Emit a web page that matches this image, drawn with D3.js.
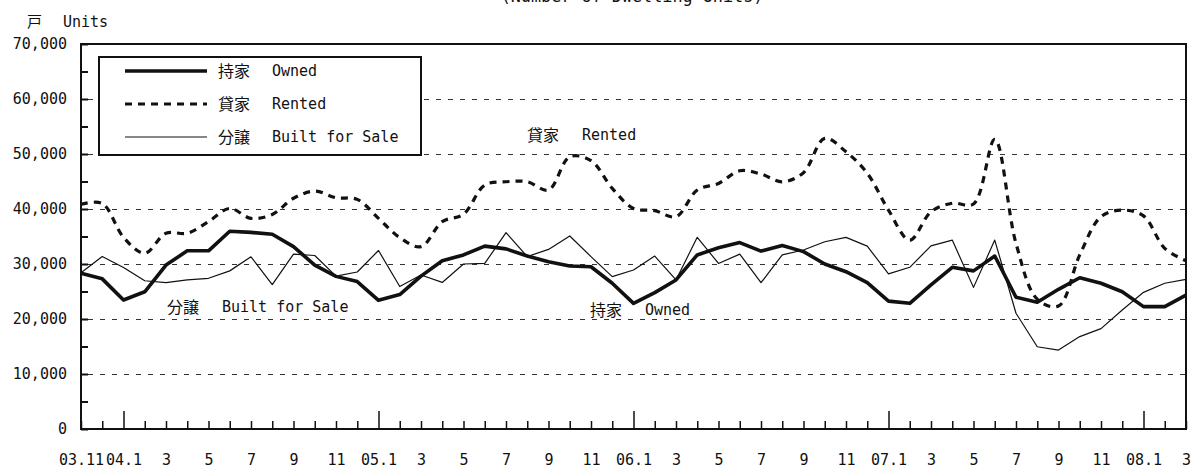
<!DOCTYPE html>
<html>
<head>
<meta charset="utf-8">
<script src="https://cdn.jsdelivr.net/npm/d3@7"></script>
<style>
  html, body { margin: 0; padding: 0; background: #fff; }
  svg { display: block; }
  text { font-family: 'DejaVu Sans Mono', 'Noto Sans CJK JP', monospace; fill: #111; }
  .cjk { font-family: 'Noto Sans CJK JP', sans-serif; }
</style>
</head>
<body>
<div id="chart"></div>
<script>
// monthly, 2003.11 - 2008.3
var months = [
  '03.11', '03.12',
  '04.1', '04.2', '04.3', '04.4', '04.5', '04.6', '04.7', '04.8', '04.9', '04.10', '04.11', '04.12',
  '05.1', '05.2', '05.3', '05.4', '05.5', '05.6', '05.7', '05.8', '05.9', '05.10', '05.11', '05.12',
  '06.1', '06.2', '06.3', '06.4', '06.5', '06.6', '06.7', '06.8', '06.9', '06.10', '06.11', '06.12',
  '07.1', '07.2', '07.3', '07.4', '07.5', '07.6', '07.7', '07.8', '07.9', '07.10', '07.11', '07.12',
  '08.1', '08.2', '08.3'
]

var owned = [
  28300, 27300, 23450, 24950, 29800, 32400, 32400, 35950, 35750, 35400, 33150, 29800, 27750,
  26800, 23400, 24450, 27800, 30600, 31650, 33250, 32750, 31450, 30400, 29650, 29500, 26500,
  22850, 24800, 27100, 31650, 32950, 33900, 32350, 33350, 32250, 30000, 28600, 26600, 23250,
  22850, 26200, 29400, 28750, 31450, 23950, 23050, 25400, 27500, 26500, 24950, 22250, 22250, 24350
]

var rented = [
  40850, 41000, 34850, 31950, 35600, 35600, 37700, 40100, 38300, 39000, 41950, 43250, 42050,
  41750, 38300, 34800, 33150, 37700, 39050, 44350, 44950, 44950, 43450, 49500, 48800, 43750,
  40100, 39700, 38600, 43450, 44650, 46950, 46350, 44950, 46600, 52850, 50400, 46500, 39800,
  34350, 39500, 41050, 40900, 52650, 33750, 23600, 22350, 31650, 38600, 39800, 38750, 32850, 30600
]

var builtForSale = [
  28400, 31350, 29350, 26950, 26600, 27100, 27400, 28750, 31300, 26250, 31800, 31550, 27800,
  28550, 32450, 25900, 28000, 26650, 30000, 30100, 35700, 31350, 32650, 35100, 31350, 27700,
  28900, 31450, 27100, 34850, 30100, 31800, 26600, 31650, 32550, 34050, 34850, 33250, 28200,
  29400, 33300, 34350, 25750, 34350, 21050, 14950, 14350, 16800, 18250, 21650, 24850, 26500, 27200
]

var yTicks = [0, 5000, 10000, 15000, 20000, 25000, 30000, 35000, 40000, 45000, 50000, 55000, 60000, 65000, 70000]
var gridValues = [10000, 20000, 30000, 40000, 50000, 60000]

var series = [
  { jp: '持家', en: 'Owned', values: owned, width: 3.6, dash: null, smooth: false,
    label: { x: 590, y: 310 } },
  { jp: '貸家', en: 'Rented', values: rented, width: 3.2, dash: '7,6', smooth: true,
    label: { x: 527, y: 135 } },
  { jp: '分譲', en: 'Built for Sale', values: builtForSale, width: 1.2, dash: null, smooth: false,
    label: { x: 167, y: 307 } }
]

var W = 1192
var H = 470
var plot = { left: 81, right: 1186, top: 44, bottom: 429 }

var svg = d3.select('#chart').append('svg')
  .attr('width', W)
  .attr('height', H)

var x = d3.scalePoint()
  .domain(months)
  .range([plot.left, plot.right])

var y = d3.scaleLinear()
  .domain([0, 70000])
  .range([plot.bottom, plot.top])

// title (cut at top edge, as in the source) and unit
svg.append('text')
  .attr('x', 632)
  .attr('y', 2)
  .attr('text-anchor', 'middle')
  .style('font-size', '16.8px')
  .text('(Number of Dwelling Units)')

svg.append('text')
  .attr('class', 'cjk')
  .attr('x', 27)
  .attr('y', 27)
  .style('font-size', '15px')
  .text('戸')
svg.append('text')
  .attr('x', 63)
  .attr('y', 27)
  .style('font-size', '15px')
  .text('Units')

// dashed gridlines
svg.append('g')
  .selectAll('line')
  .data(gridValues)
  .enter()
  .append('line')
  .attr('x1', plot.left + 7)
  .attr('x2', plot.right)
  .attr('y1', function (d) { return Math.round(y(d)) + 0.5 })
  .attr('y2', function (d) { return Math.round(y(d)) + 0.5 })
  .attr('stroke', '#333')
  .attr('stroke-width', 1)
  .attr('stroke-dasharray', '5,7')

// y axis
var yAxis = svg.append('g')
  .attr('transform', 'translate(' + plot.left + ',0)')
  .call(d3.axisLeft(y)
    .tickValues(yTicks)
    .tickSize(-7)
    .tickPadding(14)
    .tickFormat(function (d) { return d % 10000 === 0 ? d3.format(',')(d) : '' }))
yAxis.select('.domain').remove()
yAxis.selectAll('.tick line').attr('stroke', '#111').attr('stroke-width', 2)
yAxis.selectAll('text').style('font-size', '15px').style('font-family', null)

// x axis
var xAxis = svg.append('g')
  .attr('transform', 'translate(0,' + plot.bottom + ')')
  .call(d3.axisBottom(x)
    .tickSize(-8)
    .tickPadding(25)
    .tickFormat(function (d, i) {
      if (i % 2 !== 0) return ''
      var parts = d.split('.')
      return (i === 0 || parts[1] === '1') ? d : parts[1]
    }))
xAxis.select('.domain').remove()
xAxis.selectAll('.tick line')
  .attr('stroke', '#111')
  .attr('stroke-width', 1.5)
  .attr('y2', function (d) { return d.split('.')[1] === '1' ? -18 : -8 })
xAxis.selectAll('text').style('font-size', '15px').style('font-family', null)

// plot frame
svg.append('rect')
  .attr('x', plot.left)
  .attr('y', plot.top)
  .attr('width', plot.right - plot.left)
  .attr('height', plot.bottom - plot.top)
  .attr('fill', 'none')
  .attr('stroke', '#111')
  .attr('stroke-width', 2)

// series lines
series.forEach(function (s) {
  var line = d3.line()
    .x(function (d, i) { return x(months[i]) })
    .y(function (d) { return y(d) })
    .curve(s.smooth ? d3.curveCatmullRom : d3.curveLinear)

  svg.append('path')
    .datum(s.values)
    .attr('d', line)
    .attr('fill', 'none')
    .attr('stroke', '#111')
    .attr('stroke-width', s.width)
    .attr('stroke-linejoin', 'round')
    .attr('stroke-dasharray', s.dash)

  svg.append('text')
    .attr('class', 'cjk')
    .attr('x', s.label.x)
    .attr('y', s.label.y)
    .attr('dy', '0.35em')
    .style('font-size', '16px')
    .text(s.jp)
  svg.append('text')
    .attr('x', s.label.x + 55)
    .attr('y', s.label.y)
    .attr('dy', '0.35em')
    .style('font-size', '15px')
    .text(s.en)
})

// legend
var legend = svg.append('g')
legend.append('rect')
  .attr('x', 99)
  .attr('y', 57)
  .attr('width', 322)
  .attr('height', 98)
  .attr('fill', '#fff')
  .attr('stroke', '#111')
  .attr('stroke-width', 2)

var rowY = [71, 104, 137]
series.forEach(function (s, i) {
  legend.append('line')
    .attr('x1', 125)
    .attr('x2', 207)
    .attr('y1', rowY[i])
    .attr('y2', rowY[i])
    .attr('stroke', '#111')
    .attr('stroke-width', s.width)
    .attr('stroke-dasharray', s.dash)
  legend.append('text')
    .attr('class', 'cjk')
    .attr('x', 218)
    .attr('y', rowY[i])
    .attr('dy', '0.35em')
    .style('font-size', '16px')
    .text(s.jp)
  legend.append('text')
    .attr('x', 272)
    .attr('y', rowY[i])
    .attr('dy', '0.35em')
    .style('font-size', '15px')
    .text(s.en)
})
</script>
</body>
</html>
